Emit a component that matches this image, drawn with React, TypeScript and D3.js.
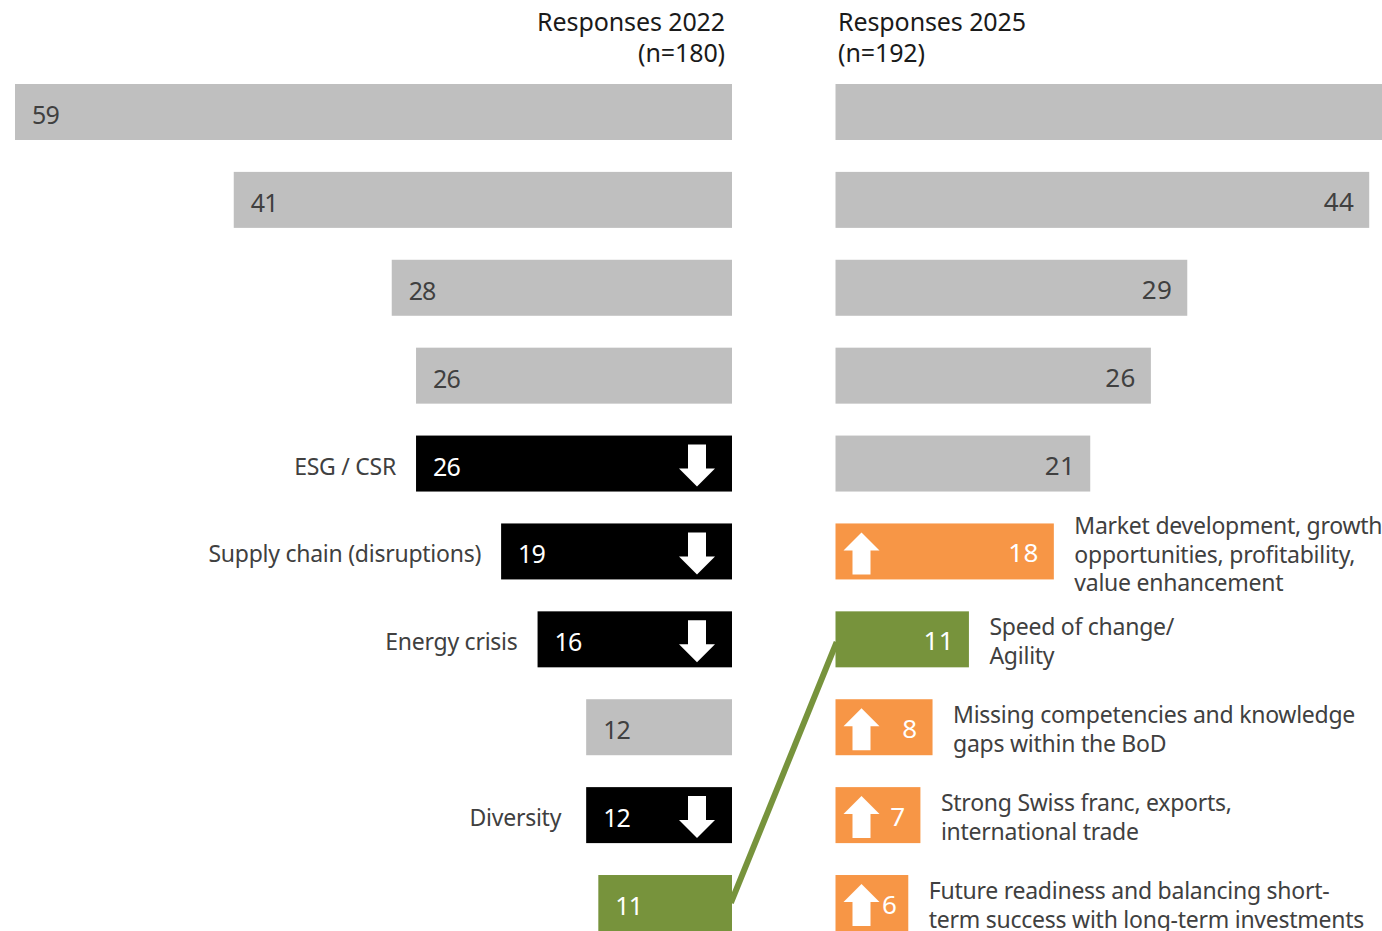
import React from "react";
import * as d3 from "d3";

const W = 1382;
const H = 931;

// Responses per topic, ordered from most to fewest mentions.
const rows = d3.range(10);
const values2022 = [59, 41, 28, 26, 26, 19, 16, 12, 12, 11];
const values2025 = [48, 44, 29, 26, 21, 18, 11, 8, 7, 6];
const kinds2022 = ["same", "same", "same", "same", "down", "down", "down", "same", "down", "link"];
const kinds2025 = ["same", "same", "same", "same", "same", "up", "link", "up", "up", "up"];
const shown2025 = [false, true, true, true, true, true, true, true, true, true];

const labels2022: string[] = ["", "", "", "", "ESG / CSR", "Supply chain (disruptions)", "Energy crisis", "", "Diversity", ""];
const labels2025: string[][] = [
  [], [], [], [], [],
  ["Market development, growth", "opportunities, profitability,", "value enhancement"],
  ["Speed of change/", "Agility"],
  ["Missing competencies and knowledge", "gaps within the BoD"],
  ["Strong Swiss franc, exports,", "international trade"],
  ["Future readiness and balancing short-", "term success with long-term investments"],
];

const fills: Record<string, string> = { same: "#bfbfbf", down: "#000000", up: "#f79646", link: "#77933c" };
const font = "'Noto Sans', sans-serif";
const inkDark = "#404040";

const y = d3.scaleBand<number>().domain(rows).range([84, H]).paddingInner(0.363).paddingOuter(0);
const xLeft = d3.scaleLinear().domain([0, 59]).range([732, 15]);
const xRight = d3.scaleLinear().domain([0, 45]).range([835.5, 1381.35]);

function arrow(cx: number, top: number, dir: "up" | "down"): string {
  // Block arrow, 37 wide and 42 tall, with its head pointing along dir.
  const tip = dir === "down" ? top + 42 : top;
  const tail = dir === "down" ? top : top + 42;
  const neck = dir === "down" ? top + 24 : top + 18;
  const p = d3.path();
  p.moveTo(cx, tip);
  p.lineTo(cx + 18, neck);
  p.lineTo(cx + 9, neck);
  p.lineTo(cx + 9, tail);
  p.lineTo(cx - 9, tail);
  p.lineTo(cx - 9, neck);
  p.lineTo(cx - 18, neck);
  p.closePath();
  return p.toString();
}

export default function App() {
  const band = y.bandwidth();
  const linkRowL = kinds2022.indexOf("link");
  const linkRowR = kinds2025.indexOf("link");

  return (
    <svg
      width={W}
      height={H}
      viewBox={`0 0 ${W} ${H}`}
      style={{ position: "absolute", left: 0, top: 0, display: "block", background: "#fff" }}
      fontFamily={font}
    >
      <line
        x1={xLeft(0)}
        y1={y(linkRowL)! + band * 0.45}
        x2={xRight(0)}
        y2={y(linkRowR)! + band * 0.6}
        stroke={fills.link}
        strokeWidth={6}
        strokeLinecap="square"
      />

      <g fontSize={25} letterSpacing={-0.1} fill="#1a1a1a">
        <text x={725} y={30.5} textAnchor="end">Responses 2022</text>
        <text x={725} y={61.5} textAnchor="end">(n=180)</text>
        <text x={838} y={30.5}>Responses 2025</text>
        <text x={838} y={61.5}>(n=192)</text>
      </g>

      {rows.map((i) => {
        const top = y(i)!;
        const kindL = kinds2022[i];
        const x0 = xLeft(values2022[i]);
        return (
          <g key={`l${i}`}>
            <rect x={x0} y={top} width={xLeft(0) - x0} height={band} fill={fills[kindL]} />
            <text
              x={x0 + 17}
              y={top + 40}
              fontSize={25}
              letterSpacing={-0.9}
              fill={kindL === "same" ? inkDark : "#ffffff"}
            >
              {values2022[i]}
            </text>
            {kindL === "down" && <path d={arrow(xLeft(0) - 35, top + 9, "down")} fill="#ffffff" />}
            {labels2022[i] && (
              <text
                x={x0 - (values2022[i] === 12 ? 25 : 20)}
                y={top + 39}
                fontSize={23}
                letterSpacing={-0.25}
                textAnchor="end"
                fill={inkDark}
              >
                {labels2022[i]}
              </text>
            )}
          </g>
        );
      })}

      {rows.map((i) => {
        const top = y(i)!;
        const kindR = kinds2025[i];
        const x1 = xRight(values2025[i]);
        const lines = labels2025[i];
        const firstBaseline = top + 24 - (lines.length - 2) * 13.5;
        return (
          <g key={`r${i}`}>
            <rect x={xRight(0)} y={top} width={x1 - xRight(0)} height={band} fill={fills[kindR]} />
            {shown2025[i] && (
              <text
                x={x1 - (values2025[i] === 6 ? 11 : 15)}
                y={top + 39}
                fontSize={26}
                letterSpacing={0.4}
                textAnchor="end"
                fill={kindR === "same" ? inkDark : "#ffffff"}
              >
                {values2025[i]}
              </text>
            )}
            {kindR === "up" && <path d={arrow(xRight(0) + 26, top + 9, "up")} fill="#ffffff" />}
            {lines.map((line, k) => (
              <text
                key={k}
                x={x1 + 20.5}
                y={firstBaseline + k * 28.7}
                fontSize={23}
                letterSpacing={-0.25}
                fill={inkDark}
              >
                {line}
              </text>
            ))}
          </g>
        );
      })}
    </svg>
  );
}
